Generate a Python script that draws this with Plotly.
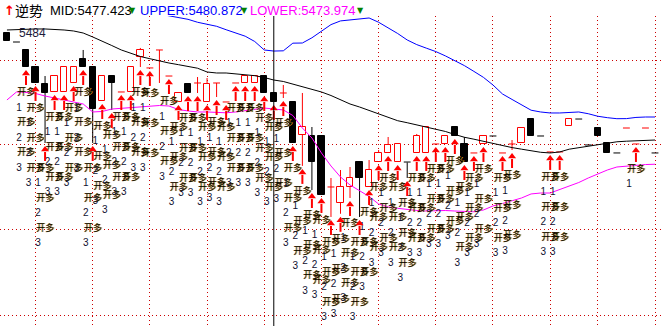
import plotly.graph_objects as go

# ---------------- data ----------------
open_ = [5483.02, 5481.95, 5481.00, 5478.97, 5476.95, 5476.00, 5476.00, 5477.07, 5479.93, 5478.97,
         5474.93, 5477.90, 5476.00, 5476.00, 5480.16, 5478.86, 5481.00, 5477.90, 5474.81, 5476.95,
         5477.07, 5474.81, 5477.07, 5474.81, 5477.07, 5477.07, 5477.07, 5477.90, 5475.88, 5475.88,
         5474.81, 5470.88, 5470.76, 5470.76, 5464.69, 5462.78, 5464.69, 5467.66, 5464.69, 5467.66,
         5468.74, 5467.66, 5467.66, 5468.74, 5468.74, 5469.81, 5469.81, 5471.83, 5469.81, 5468.74,
         5469.81, 5470.76, 5468.74, 5469.81, 5469.93, 5472.78, 5470.76, 5468.86, 5468.86, 5471.95,
         5472.78, 5469.69, 5471.71, 5469.93, 5468.74, 5471.71, 5469.81, 5471.71, 5468.74]
high = [5483.02, 5481.95, 5481.00, 5478.97, 5477.90, 5477.90, 5478.97, 5478.97, 5481.00, 5478.97,
        5477.90, 5477.90, 5476.00, 5478.97, 5481.24, 5478.86, 5481.00, 5477.90, 5475.88, 5476.95,
        5477.78, 5477.66, 5477.07, 5474.81, 5477.07, 5477.90, 5477.90, 5477.90, 5475.88, 5476.83,
        5474.81, 5475.88, 5471.83, 5470.76, 5465.76, 5466.71, 5467.07, 5467.66, 5467.90, 5469.09,
        5470.64, 5469.81, 5467.66, 5471.00, 5471.83, 5469.81, 5470.76, 5471.83, 5470.64, 5468.74,
        5470.76, 5470.76, 5468.74, 5470.28, 5471.71, 5472.78, 5470.76, 5468.86, 5468.86, 5472.78,
        5472.78, 5469.69, 5471.71, 5469.93, 5468.74, 5471.71, 5469.81, 5471.71, 5468.74]
low = [5482.07, 5481.90, 5478.97, 5477.07, 5469.93, 5476.00, 5476.00, 5477.07, 5478.97, 5469.93,
       5474.93, 5473.86, 5476.00, 5476.00, 5478.97, 5478.86, 5477.07, 5477.90, 5474.81, 5475.88,
       5475.88, 5474.81, 5475.40, 5474.81, 5477.07, 5477.07, 5477.07, 5475.88, 5474.81, 5475.28,
       5469.93, 5467.20, 5464.33, 5463.74, 5461.12, 5461.50, 5463.38, 5461.12, 5464.69, 5467.66,
       5468.74, 5467.66, 5465.76, 5468.74, 5468.74, 5469.81, 5469.81, 5470.76, 5467.66, 5468.74,
       5469.81, 5470.71, 5468.74, 5469.09, 5469.93, 5470.76, 5470.71, 5468.86, 5468.86, 5471.95,
       5472.73, 5469.64, 5470.76, 5468.74, 5468.69, 5471.71, 5469.81, 5471.71, 5468.69]
close = [5482.07, 5481.90, 5478.97, 5477.07, 5475.88, 5477.90, 5478.97, 5478.97, 5478.97, 5473.97,
         5477.90, 5477.07, 5476.00, 5478.97, 5481.00, 5478.86, 5481.00, 5477.90, 5475.88, 5475.88,
         5477.07, 5476.95, 5477.07, 5474.81, 5477.07, 5477.90, 5477.90, 5475.88, 5474.81, 5475.88,
         5469.93, 5471.83, 5467.66, 5463.74, 5464.69, 5464.69, 5465.76, 5465.76, 5466.71, 5468.74,
         5469.69, 5469.81, 5467.61, 5470.76, 5471.83, 5469.81, 5470.76, 5470.76, 5467.66, 5468.74,
         5470.76, 5470.71, 5468.74, 5469.81, 5471.71, 5470.76, 5470.71, 5468.86, 5468.86, 5472.78,
         5472.73, 5469.64, 5470.76, 5468.74, 5468.69, 5471.71, 5469.81, 5471.71, 5468.69]

mid = [5483.38, 5483.44, 5483.50, 5483.50, 5483.50, 5483.46, 5483.38, 5483.26, 5483.02, 5482.55,
       5482.07, 5481.53, 5481.00, 5480.58, 5480.22, 5479.96, 5479.69, 5479.45, 5479.25, 5479.05,
       5478.83, 5478.38, 5478.26, 5478.26, 5478.14, 5478.02, 5477.94, 5477.72, 5477.423, 5477.25,
       5476.95, 5476.65, 5476.36, 5476.00, 5475.58, 5475.11, 5474.57, 5474.21, 5473.80, 5473.32,
       5472.94, 5472.58, 5472.34, 5472.07, 5471.83, 5471.59, 5471.30, 5470.94, 5470.61, 5470.38,
       5470.12, 5469.84, 5469.57, 5469.38, 5469.19, 5469.00, 5468.82, 5468.74, 5468.86, 5469.19,
       5469.37, 5469.58, 5469.77, 5469.94, 5470.07, 5470.14, 5470.20, 5470.25, 5470.28]
upper = [None] * 16 + [
    5485.28, 5485.05, 5484.81, 5484.65, 5484.30, 5484.09, 5483.82, 5483.41, 5483.06, 5482.64,
    5482.01, 5481.00, 5480.872, 5480.90, 5481.81, 5481.83, 5482.45, 5483.26, 5484.02, 5484.46,
    5484.59, 5484.71, 5484.81, 5484.30, 5483.66, 5482.96, 5482.19, 5481.64, 5481.22, 5480.81,
    5480.30, 5479.76, 5479.14, 5478.45, 5477.74, 5476.83, 5475.76, 5475.11, 5474.51, 5473.83,
    5473.62, 5473.50, 5473.50, 5473.55, 5473.62, 5473.41, 5473.11, 5472.94, 5472.82, 5472.83,
    5472.97, 5473.02, 5473.02]
lower = [5475.05, 5476.00, 5475.94, 5475.82, 5475.52, 5475.28, 5475.11, 5474.87, 5474.57, 5473.62,
         5473.68, 5473.97, 5474.06, 5474.15, 5474.27, 5474.33, 5474.39, 5474.33, 5473.91, 5473.74,
         5473.62, 5473.62, 5473.58, 5473.52, 5473.62, 5473.80, 5473.97, 5474.09, 5473.974, 5473.86,
         5473.20, 5471.71, 5470.52, 5468.74, 5467.19, 5465.88, 5464.93, 5464.27, 5463.56, 5462.66,
         5462.31, 5462.15, 5462.01, 5461.89, 5461.83, 5461.89, 5461.89, 5461.83, 5461.79, 5461.74,
         5461.95, 5462.43, 5462.72, 5463.08, 5463.38, 5463.86, 5463.97, 5463.97, 5464.39, 5464.81,
         5465.22, 5465.76, 5466.24, 5466.71, 5467.07, 5467.19, 5467.31, 5467.36, 5467.40]
# number of "开多" signals shown under each bar
signals = [0, 0, 3, 3, 3, 3, 3, 3, 3, 3,
           3, 3, 3, 3, 3, 3, 0, 3, 3, 3,
           3, 3, 3, 3, 3, 3, 3, 3, 3, 3,
           3, 3, 3, 3, 3, 3, 3, 3, 3, 3,
           3, 3, 3, 3, 3, 3, 3, 3, 3, 3,
           3, 0, 3, 3, 0, 0, 0, 3, 3, 0,
           0, 0, 0, 0, 0, 0, 1, 0, 0]
signal_text = "开多"
high_label = "5484"
cursor = 28
grid_bars = [3, 9, 15, 21, 27, 33, 39, 45, 51, 57, 62, 68]
grid_prices = [5479.8, 5469.8, 5459.6, 5449.4]

# ---------------- layout constants ----------------
W, H = 661, 326
MT = 16
X_MIN, X_MAX = -0.728, 68.63
Y_MIN, Y_MAX = 5448.14, 5485.045
PPX = W / (X_MAX - X_MIN)            # pixels per bar
PPU = (H - MT) / (Y_MAX - Y_MIN)      # pixels per price unit
RED, BLACK = "#ff0000", "#000000"

n = len(open_)
idx = list(range(n))

fig = go.Figure()

# bodies
up_x, up_b, up_h, dn_x, dn_b, dn_h = [], [], [], [], [], []
doji = {RED: ([], []), BLACK: ([], [])}
wick = {RED: ([], []), BLACK: ([], [])}
for i in idx:
    o, h, l, c = open_[i], high[i], low[i], close[i]
    col = RED if c >= o else BLACK
    top, bot = max(o, c), min(o, c)
    if top - bot < 0.1:
        xs, ys = doji[col]
        xs += [i - 0.36, i + 0.36, None]
        ys += [o, o, None]
    elif col == RED:
        up_x.append(i); up_b.append(bot); up_h.append(top - bot)
    else:
        dn_x.append(i); dn_b.append(bot); dn_h.append(top - bot)
    xs, ys = wick[col]
    if h > top + 0.01:
        xs += [i, i, None]; ys += [top, h, None]
    if l < bot - 0.01:
        xs += [i, i, None]; ys += [bot, l, None]

fig.add_trace(go.Bar(x=up_x, y=up_h, base=up_b, width=0.66,
                     marker=dict(color="white", line=dict(color=RED, width=1))))
fig.add_trace(go.Bar(x=dn_x, y=dn_h, base=dn_b, width=0.66,
                     marker=dict(color=BLACK, line=dict(color=BLACK, width=1))))
for col in (RED, BLACK):
    fig.add_trace(go.Scatter(x=wick[col][0], y=wick[col][1], mode="lines",
                             line=dict(color=col, width=1)))
    fig.add_trace(go.Scatter(x=doji[col][0], y=doji[col][1], mode="lines",
                             line=dict(color=col, width=1)))

# bands
fig.add_trace(go.Scatter(x=idx, y=mid, mode="lines", line=dict(color="#000000", width=1)))
fig.add_trace(go.Scatter(x=idx, y=upper, mode="lines", line=dict(color="#0000ff", width=1)))
fig.add_trace(go.Scatter(x=idx, y=lower, mode="lines", line=dict(color="#ff00ff", width=1)))

# signal texts
tx, ty, nx, ny, nt = [], [], [], [], []
for i in idx:
    for j in range(signals[i]):
        tx.append(i); ty.append(low[i] - (26 + 30 * j) / PPU)
        nx.append(i - 7.0 / PPX); ny.append(low[i] - (41 + 30 * j) / PPU); nt.append(str(j + 1))
fig.add_trace(go.Scatter(x=[v + 1 / PPX for v in tx], y=ty, mode="text", text=[signal_text] * len(tx),
                         textfont=dict(family="Noto Sans CJK SC", size=9, color="#e0a020")))
fig.add_trace(go.Scatter(x=tx, y=ty, mode="text", text=[signal_text] * len(tx),
                         textfont=dict(family="Noto Sans CJK SC", size=9, color="#000000")))
fig.add_trace(go.Scatter(x=nx, y=ny, mode="text", text=nt,
                         textfont=dict(family="Liberation Sans", size=10, color="#101030")))

# arrows
sx, sy, hx, hy = [], [], [], []
for i in idx:
    if signals[i] > 0:
        sx += [i, i, None]; sy += [low[i] - 9 / PPU, low[i] - 18 / PPU, None]
        hx.append(i); hy.append(low[i] - 6.5 / PPU)
fig.add_trace(go.Scatter(x=sx, y=sy, mode="lines", line=dict(color=RED, width=2)))
fig.add_trace(go.Scatter(x=hx, y=hy, mode="markers",
                         marker=dict(symbol="triangle-up", size=7, color=RED, line=dict(width=0))))

# cursor line
fig.add_shape(type="line", xref="x", yref="paper", x0=cursor, x1=cursor, y0=0, y1=1,
              line=dict(color="#000000", width=1))

# high label
fig.add_annotation(x=1.06, y=open_[0], xref="x", yref="y", text=high_label, showarrow=False,
                   xanchor="left", yanchor="middle",
                   font=dict(family="Liberation Sans", size=12, color="#1c1c3c"))

# title line
def py(ypx):
    return (H - ypx) / (H - MT)

title_parts = [
    (2, "<b>↑</b>", "DejaVu Sans", 13, RED),
    (13, "逆势", "Noto Sans CJK SC", 14, "#000000"),
    (48, f"MID:{mid[cursor]:.3f}", "Liberation Sans", 13, "#000000"),
    (127, "▼", "DejaVu Sans", 8, "#008000"),
    (138, f"UPPER:{upper[cursor]:.3f}", "Liberation Sans", 13, "#0000ff"),
    (239, "▼", "DejaVu Sans", 8, "#008000"),
    (248, f"LOWER:{lower[cursor]:.3f}", "Liberation Sans", 13, "#ff00ff"),
    (355, "▼", "DejaVu Sans", 8, "#008000"),
]
for xpx, txt, fam, sz, colr in title_parts:
    fig.add_annotation(x=xpx / W, y=py(10), xref="paper", yref="paper", text=txt,
                       showarrow=False, xanchor="left", yanchor="middle",
                       font=dict(family=fam, size=sz, color=colr))

fig.update_layout(width=W, height=H, margin=dict(l=0, r=0, t=MT, b=0),
                  paper_bgcolor="white", plot_bgcolor="white", showlegend=False,
                  barmode="overlay", bargap=0)
fig.update_xaxes(range=[X_MIN, X_MAX], tickvals=grid_bars, showticklabels=False, ticks="",
                 showgrid=True, gridcolor="#cc0000", griddash="1px,3px", gridwidth=1,
                 zeroline=False, showline=False)
fig.update_yaxes(range=[Y_MIN, Y_MAX], tickvals=grid_prices, showticklabels=False, ticks="",
                 showgrid=True, gridcolor="#cc0000", griddash="1px,3px", gridwidth=1,
                 zeroline=False, showline=False)

fig.write_html("out.html", config={"displayModeBar": False})
